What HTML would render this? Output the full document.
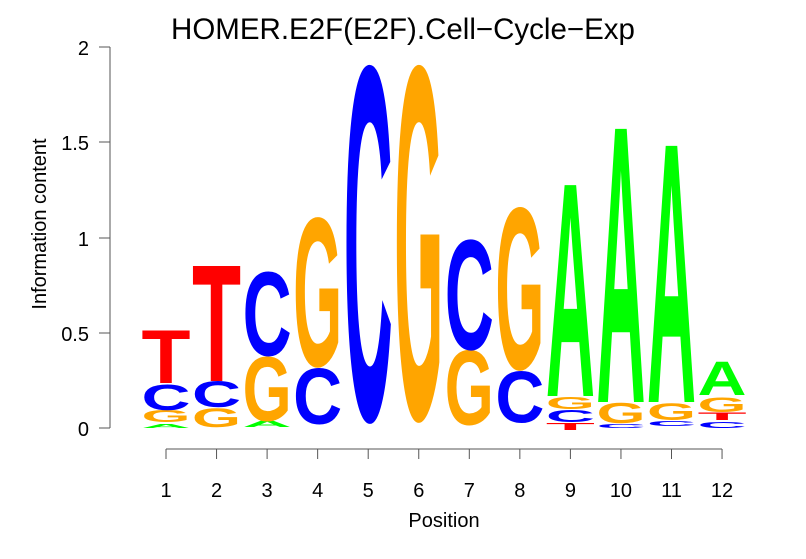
<!DOCTYPE html>
<html><head><meta charset="utf-8"><style>
html,body{margin:0;padding:0;background:#fff;}
svg{display:block;font-family:"Liberation Sans",sans-serif;}
</style></head><body>
<svg width="806" height="559" viewBox="0 0 806 559" xmlns="http://www.w3.org/2000/svg">
<rect width="806" height="559" fill="#fff"/>
<text x="403" y="39" font-size="29.5" text-anchor="middle" fill="#000">HOMER.E2F(E2F).Cell−Cycle−Exp</text>
<g stroke="#555" stroke-width="1" fill="none">
<line x1="110" y1="47" x2="110" y2="428"/>
<line x1="99" y1="47" x2="110" y2="47"/>
<line x1="99" y1="142" x2="110" y2="142"/>
<line x1="99" y1="238" x2="110" y2="238"/>
<line x1="99" y1="333" x2="110" y2="333"/>
<line x1="99" y1="428" x2="110" y2="428"/>
<line x1="166" y1="449" x2="722" y2="449"/>
</g>
<g font-size="20" text-anchor="end" fill="#000">
<text x="89" y="55">2</text><text x="89" y="150">1.5</text><text x="89" y="246">1</text><text x="89" y="341">0.5</text><text x="89" y="436">0</text>
</g>
<text transform="translate(46,224) rotate(-90)" font-size="20" text-anchor="middle">Information content</text>
<text x="444" y="527" font-size="20" text-anchor="middle">Position</text>
<g id="xt" font-size="20" text-anchor="middle" stroke="#555"></g>
<g id="logo"></g>
<script>
var xt=document.getElementById('xt'),NS="http://www.w3.org/2000/svg";
for(var i=1;i<=12;i++){var x=166+(i-1)*50.55;
var l=document.createElementNS(NS,'line');l.setAttribute('x1',x);l.setAttribute('x2',x);l.setAttribute('y1',449);l.setAttribute('y2',459);xt.appendChild(l);
var t=document.createElementNS(NS,'text');t.setAttribute('x',x);t.setAttribute('y',497);t.setAttribute('stroke','none');t.textContent=i;xt.appendChild(t);}
var col={A:'#00FF00',C:'#0000FF',G:'#FFA500',T:'#FF0000'};
var wd={A:72.2,C:72.2,G:77.8,T:61.1};
var d=[
[['A',424,428],['G',410,422],['C',385,410],['T',330,383]],
[['G',408,427],['C',381,407],['T',264,381]],
[['A',421,427],['G',357,421],['C',272,356]],
[['C',368,424],['G',218,367]],
[['C',67,422]],
[['G',67,421]],
[['G',350,425],['C',240,350]],
[['C',372,423],['G',208,370]],
[['T',423,430],['C',410,422],['G',397,409],['A',186,396]],
[['C',424,428],['G',403,423],['A',130,402]],
[['C',421,426],['G',403,420],['A',147,402]],
[['C',422,428],['T',412,420],['G',397,412],['A',362,395]]];
var g=document.getElementById('logo');
d.forEach(function(c,i){var cx=166+i*50.55;c.forEach(function(L){
var ch=L[0],top=L[1],bot=L[2],h=bot-top;var round=(ch=='C'||ch=='G');
var capH=round?70:(ch=='A'?68.5:70),off=round?0.6:0;
var sy=h/capH,sx=49/wd[ch];
var t=document.createElementNS(NS,'text');
t.setAttribute('transform','translate('+cx+','+(bot-off*sy)+') scale('+sx+','+sy+')');
t.setAttribute('font-size','100');t.setAttribute('font-weight','bold');t.setAttribute('text-anchor','middle');
t.setAttribute('fill',col[ch]);t.textContent=ch;g.appendChild(t);});});
</script>
</svg>
</body></html>
